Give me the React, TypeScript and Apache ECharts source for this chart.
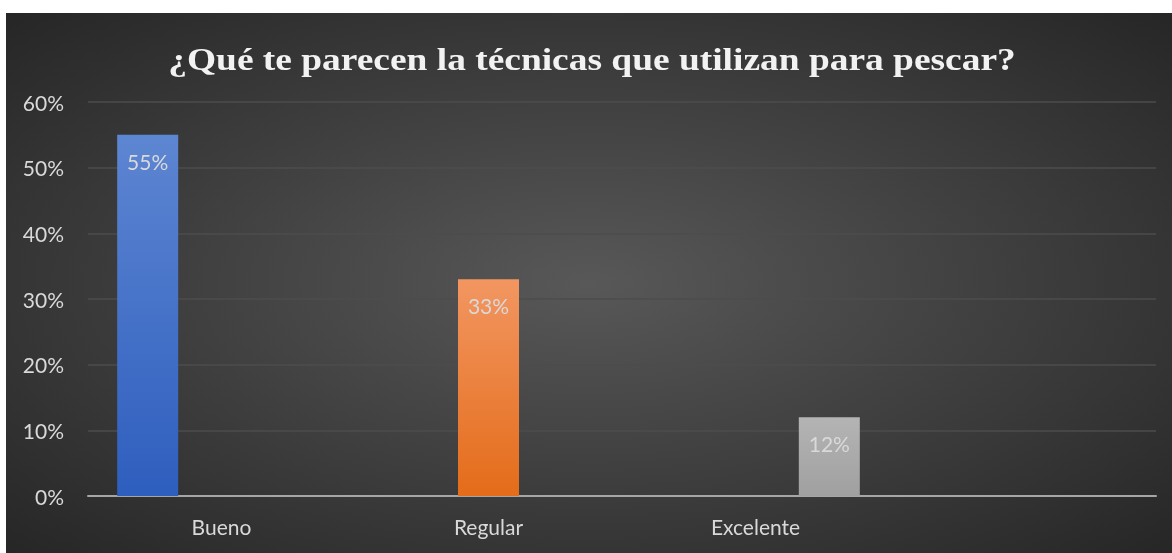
import React, { useEffect, useRef } from "react";
import * as echarts from "echarts";

const titleText = "¿Qué te parecen la técnicas que utilizan para pescar?";
const categories = ["Bueno", "Regular", "Excelente", ""];
const seriesNames = ["Bueno", "Regular", "Excelente"];
const buenoValues: (number | string)[] = [55, "-", "-", "-"];
const regularValues: (number | string)[] = ["-", 33, "-", "-"];
const excelenteValues: (number | string)[] = ["-", "-", 12, "-"];
const yTicks = [0, 10, 20, 30, 40, 50, 60];

const grad = (top: string, bottom: string) =>
  new echarts.graphic.LinearGradient(0, 0, 0, 1, [
    { offset: 0, color: top },
    { offset: 1, color: bottom },
  ]);

const sans = "Lato, 'Noto Sans', sans-serif";

export default function App() {
  const ref = useRef<HTMLDivElement>(null);
  useEffect(() => {
    if (!ref.current) return;
    const chart = echarts.init(ref.current, undefined, { renderer: "svg" });
    const label = {
      show: true,
      position: "insideTop" as const,
      distance: 16,
      color: "#d9d9d9",
      fontFamily: sans,
      fontSize: 21,
      formatter: (p: any) => `${p.value}%`,
    };
    const colors = [
      grad("#5d86d2", "#2e5ebe"),
      grad("#f29661", "#e46c1a"),
      grad("#b4b4b4", "#a0a0a0"),
    ];
    const datas = [buenoValues, regularValues, excelenteValues];
    chart.setOption({
      animation: false,
      backgroundColor: {
        type: "radial",
        x: 0.5,
        y: 0.5,
        r: 0.75,
        colorStops: [
          { offset: 0, color: "#585858" },
          { offset: 1, color: "#232323" },
        ],
      },
      graphic: [
        {
          type: "text",
          x: 586,
          y: 46,
          scaleX: 1.17,
          style: {
            text: titleText,
            fill: "#f2f2f2",
            font: "bold 32px 'Liberation Serif', 'DejaVu Serif', serif",
            textAlign: "center",
            textVerticalAlign: "middle",
          },
        },
      ],
      grid: { left: 82, right: 16, top: 89, bottom: 57 },
      xAxis: {
        type: "category",
        data: categories,
        axisLine: { lineStyle: { color: "#a6a6a6", width: 2 } },
        axisTick: { show: false },
        axisLabel: {
          color: "#d9d9d9",
          fontFamily: sans,
          fontSize: 21,
          margin: 20,
        },
      },
      yAxis: {
        type: "value",
        min: yTicks[0],
        max: yTicks[yTicks.length - 1],
        interval: 10,
        axisLine: { show: false },
        axisTick: { show: false },
        axisLabel: {
          color: "#d9d9d9",
          fontFamily: sans,
          fontSize: 21,
          margin: 24,
          formatter: (v: number) => `${v}%`,
        },
        splitLine: { lineStyle: { color: "#4c4c4c", width: 1.5 } },
      },
      series: seriesNames.map((name, i) => ({
        name,
        type: "bar",
        data: datas[i],
        barWidth: 61,
        barGap: "21%",
        itemStyle: { color: colors[i] },
        label,
      })),
    });
    return () => chart.dispose();
  }, []);
  return (
    <div
      ref={ref}
      style={{ position: "fixed", left: 6, top: 13, width: 1166, height: 540 }}
    />
  );
}
